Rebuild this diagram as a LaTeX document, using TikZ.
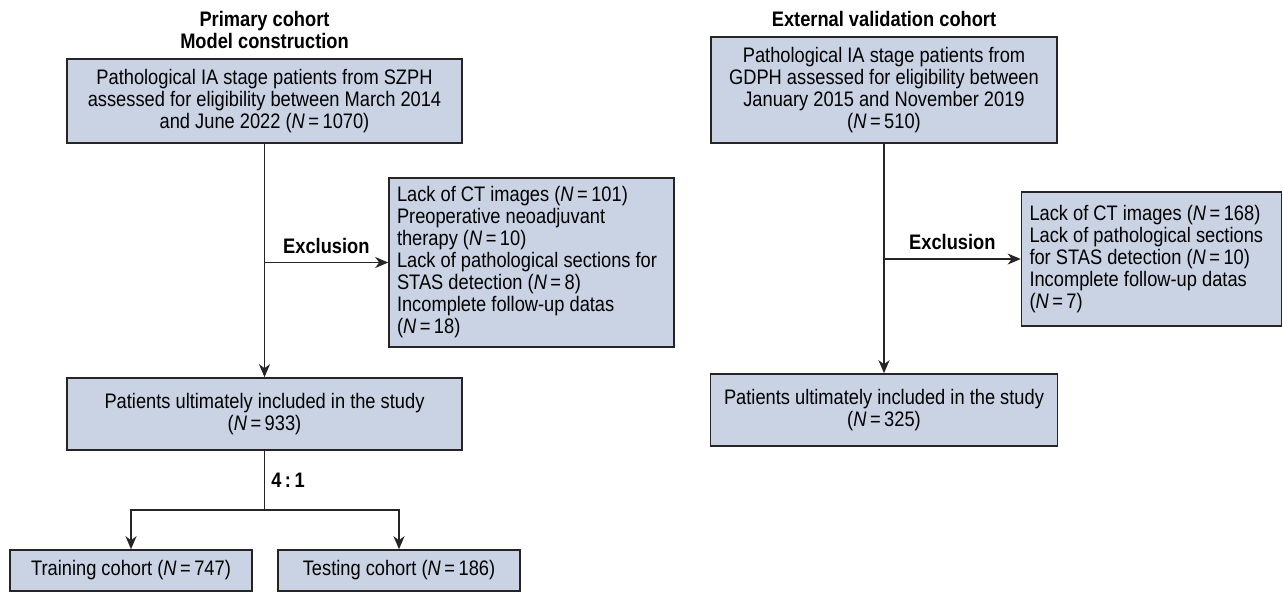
\documentclass[tikz,border=0pt]{standalone}
\usepackage{fontspec}
\setmainfont{Liberation Sans}[FakeStretch=0.87]
\usepackage{tikz}
\usetikzlibrary{arrows.meta,positioning}

\definecolor{boxfill}{RGB}{201,211,228}
\definecolor{boxline}{RGB}{38,36,37}

\tikzset{
  box/.style={draw=boxline, fill=boxfill, line width=1.6pt, inner sep=0pt, align=center},
  exclbox/.style={box, align=flush left, inner xsep=8pt},
  ttl/.style={font=\fontsize{21}{22}\selectfont\bfseries, align=center},
  lbl/.style={font=\fontsize{21}{22}\selectfont\bfseries},
  link/.style={line width=1.6pt, draw=boxline, -{Stealth[length=13pt,width=11pt,inset=4pt]}},
  plain/.style={line width=1.6pt, draw=boxline}
}
\newcommand{\nn}[1]{(\textit{N}\,=\,#1)}

\begin{document}
\begin{tikzpicture}[font=\fontsize{21}{22}\selectfont]
  \useasboundingbox (0,0) rectangle (1283pt,-592pt);

  % primary cohort
  \node[box, minimum width=395pt, minimum height=84pt] (szph) at (264.5pt,-101pt)
    {Pathological IA stage patients from SZPH\\assessed for eligibility between March 2014\\and June 2022 \nn{1070}};
  \node[ttl] (ttlA) at (264.5pt,-30pt) {Primary cohort\\Model construction};
  \node[exclbox, text width=269pt, minimum height=169pt] (exclA) at (531.5pt,-262.5pt)
    {Lack of CT images \nn{101}\\Preoperative neoadjuvant\\therapy \nn{10}\\Lack of pathological sections for\\STAS detection \nn{8}\\Incomplete follow-up datas\\\nn{18}};
  \node[box, minimum width=395pt, minimum height=72pt] (inclA) at (264.5pt,-414pt)
    {Patients ultimately included in the study\\\nn{933}};
  \node[box, minimum width=242pt, minimum height=41pt] (train) at (131pt,-570.5pt)
    {Training cohort \nn{747}};
  \node[box, minimum width=242pt, minimum height=41pt] (test) at (399pt,-570.5pt)
    {Testing cohort \nn{186}};

  % external validation cohort
  \node[box, minimum width=346pt, minimum height=106pt] (gdph) at (884pt,-90pt)
    {Pathological IA stage patients from\\GDPH assessed for eligibility between\\January 2015 and November 2019\\\nn{510}};
  \node[ttl] (ttlB) at (884pt,-19pt) {External validation cohort};
  \node[exclbox, text width=244pt, minimum height=134pt] (exclB) at (1151.5pt,-259pt)
    {Lack of CT images \nn{168}\\Lack of pathological sections\\for STAS detection \nn{10}\\Incomplete follow-up datas\\\nn{7}};
  \node[box, minimum width=347pt, minimum height=72pt] (inclB) at (884pt,-410pt)
    {Patients ultimately included in the study\\\nn{325}};

  \draw[link] (szph.south) -- (inclA.north);
  \draw[link] (szph.south |- exclA.west) -- node[lbl, above, inner sep=8pt] {Exclusion} (exclA.west);
  \draw[plain] (inclA.south) -- node[lbl, right, inner sep=6pt] {4\,:\,1} ++(0,-59pt) coordinate (split);
  \draw[link] (split) -| (train.north);
  \draw[link] (split) -| (test.north);

  \draw[link] (gdph.south) -- (inclB.north);
  \draw[link] (gdph.south |- exclB.west) -- node[lbl, above, inner sep=8pt] {Exclusion} (exclB.west);
\end{tikzpicture}
\end{document}
